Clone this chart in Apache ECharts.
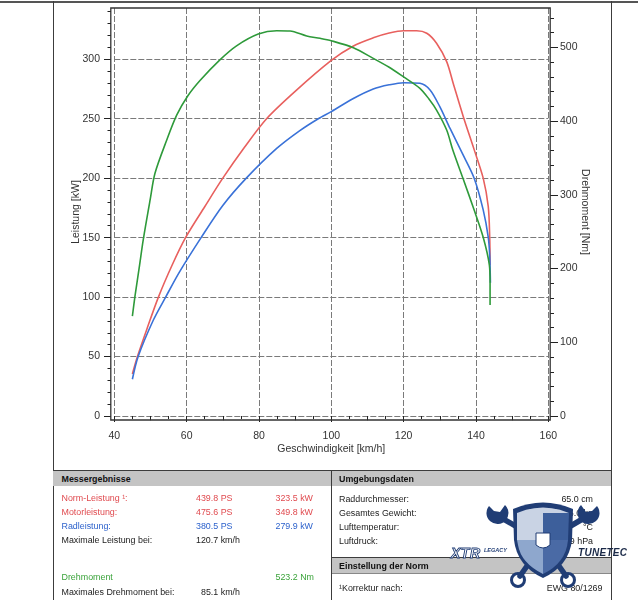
<!DOCTYPE html>
<html><head><meta charset="utf-8">
<script src="https://cdn.jsdelivr.net/npm/echarts@6.0.0/dist/echarts.min.js"></script>
<style>
html,body{margin:0;padding:0;background:#fff;}
#wrap{position:relative;width:638px;height:600px;overflow:hidden;font-family:'Liberation Sans',Arial,sans-serif;}
#chart{position:absolute;left:0;top:0;width:638px;height:600px;}
.ln{position:absolute;background:#3c3c3c;}
.bar{position:absolute;background:#c4c4c4;}
.t{position:absolute;font-size:8.9px;line-height:10px;height:10px;white-space:nowrap;color:#222;}
.h{font-weight:bold;color:#111;}
.red{color:#e04a4f;}
.blue{color:#2d62cc;}
.green{color:#3aa33a;}
#logo{position:absolute;left:0;top:0;}
</style></head>
<body><div id="wrap">
<div id="chart"></div>
<!-- page frame -->
<div class="ln" style="left:0;top:1px;width:638px;height:1.5px;background:#555"></div>
<div class="ln" style="left:52.5px;top:1px;width:1.5px;height:599px"></div>
<div class="ln" style="left:610.5px;top:1px;width:1.5px;height:599px"></div>
<!-- tables -->
<div class="bar" style="left:53px;top:470px;width:558px;height:16px"></div>
<div class="ln" style="left:53px;top:469.5px;width:558px;height:1.5px"></div>
<div class="ln" style="left:331px;top:470px;width:1.2px;height:130px"></div>
<div class="bar" style="left:332px;top:557px;width:279px;height:16px"></div>
<div class="ln" style="left:332px;top:556.5px;width:279px;height:1.2px"></div>
<div class="ln" style="left:332px;top:573px;width:279px;height:1px;background:#888"></div>

<div class="t h" style="left:61.5px;top:474px">Messergebnisse</div>
<div class="t red" style="left:61.5px;top:493px">Norm-Leistung ¹:</div>
<div class="t red" style="left:196px;top:493px">439.8 PS</div>
<div class="t red" style="left:275.5px;top:493px">323.5 kW</div>
<div class="t red" style="left:61.5px;top:507px">Motorleistung:</div>
<div class="t red" style="left:196px;top:507px">475.6 PS</div>
<div class="t red" style="left:275.5px;top:507px">349.8 kW</div>
<div class="t blue" style="left:61.5px;top:521px">Radleistung:</div>
<div class="t blue" style="left:196px;top:521px">380.5 PS</div>
<div class="t blue" style="left:275.5px;top:521px">279.9 kW</div>
<div class="t" style="left:61.5px;top:535px">Maximale Leistung bei:</div>
<div class="t" style="left:196px;top:535px">120.7 km/h</div>
<div class="t green" style="left:61.5px;top:572px">Drehmoment</div>
<div class="t green" style="left:275.5px;top:572px">523.2 Nm</div>
<div class="t" style="left:61.5px;top:587px">Maximales Drehmoment bei:</div>
<div class="t" style="left:201px;top:587px">85.1 km/h</div>

<div class="t h" style="left:339px;top:474px">Umgebungsdaten</div>
<div class="t" style="left:339px;top:494px">Raddurchmesser:</div>
<div class="t" style="right:45px;top:494px">65.0 cm</div>
<div class="t" style="left:339px;top:508px">Gesamtes Gewicht:</div>
<div class="t" style="right:45px;top:508px">5.0 kg</div>
<div class="t" style="left:339px;top:522px">Lufttemperatur:</div>
<div class="t" style="right:45px;top:522px">°C</div>
<div class="t" style="left:339px;top:536px">Luftdruck:</div>
<div class="t" style="right:45px;top:536px">9 hPa</div>
<div class="t h" style="left:339px;top:561px">Einstellung der Norm</div>
<div class="t" style="left:339px;top:583px">¹Korrektur nach:</div>
<div class="t" style="right:35.5px;top:583px">EWG 80/1269</div>

<svg id="logo" width="638" height="600" viewBox="0 0 638 600">
  <g fill="none" stroke="#203d75" stroke-width="5.5" stroke-linecap="round">
    <path d="M500,517 L524,531"/>
    <path d="M586,517 L562,531"/>
    <path d="M527,566 L520,576"/>
    <path d="M559,566 L566,576"/>
  </g>
  <path d="M489,506 a11,11 0 1 0 16,-1 l-5,7 l-6,-1 z" fill="#203d75"/>
  <path d="M597,506 a11,11 0 1 1 -16,-1 l5,7 l6,-1 z" fill="#203d75"/>
  <circle cx="518" cy="580" r="6.5" fill="none" stroke="#203d75" stroke-width="3"/>
  <circle cx="568" cy="580" r="6.5" fill="none" stroke="#203d75" stroke-width="3"/>
  <path d="M513,509 Q543,496 573,509 L572,540 Q569,566 543,578 Q517,566 514,540 Z" fill="#203d75"/>
  <path d="M517,513 Q543,502 569,513 L543,513 L543,540 L517,540 Z" fill="#c9d3e4"/>
  <path d="M543,513 L569,513 L568,540 L543,540 Z" fill="#3d5f9b"/>
  <path d="M517,540 L543,540 L543,574 Q521,563 518,545 Z" fill="#8ea7cd"/>
  <path d="M543,540 L568,540 Q566,563 543,574 Z" fill="#4a6aa5"/>
  <path d="M536,533 L550,533 L550,545 Q543,551 536,545 Z" fill="#ffffff" stroke="#203d75" stroke-width="1"/>
  <text x="451" y="557.5" font-family="Liberation Sans" font-size="14" font-style="italic" font-weight="bold" fill="#ffffff" stroke="#203d75" stroke-width="0.9" letter-spacing="0.5">XTR</text>
  <text x="484" y="552" font-family="Liberation Sans" font-size="5.5" font-style="italic" font-weight="bold" fill="#203d75">LEGACY</text>
  <text x="578" y="556" font-family="Liberation Sans" font-size="10" font-style="italic" font-weight="bold" fill="#1b2a48" letter-spacing="0.3">TUNETEC</text>
</svg>
</div>
<script>
// ---- data ----
const xTicks = [40, 60, 80, 100, 120, 140, 160];
const kwTicks = [0, 50, 100, 150, 200, 250, 300];
const nmTicks = [0, 100, 200, 300, 400, 500];

// Norm-Leistung (red), kW
const speedNorm = [45, 46.4, 49, 52.2, 56, 59.7, 65, 70, 76, 82.1, 90, 100, 106, 111.6, 116, 120, 123.6, 126.4, 129.1, 131.9, 133.7, 136.5, 139.5, 142, 143.4, 143.8, 143.9];
const normKW    = [35.3, 50, 73, 100, 127, 150, 176, 200, 226, 250, 273, 299, 311, 318, 322, 324, 324, 321.9, 313.5, 298, 279.8, 251.7, 224, 200, 176, 150.3, 127];

// Radleistung (blue), kW
const speedRad = [45, 46.6, 50.8, 54.2, 58, 64, 70, 76.5, 84.9, 91.3, 96.4, 100, 106.1, 111.6, 116, 120, 124.5, 127.3, 130, 132.8, 136.2, 139.5, 142, 143.4, 143.8, 144];
const radKW    = [30.9, 50, 80.7, 100, 121, 150, 177, 200, 225, 240, 250, 256, 267, 275, 278.5, 280.3, 279.8, 274.2, 260.1, 242, 221, 200, 173.3, 150.3, 135, 112];

// Drehmoment (green), Nm
const speedTorque = [45, 45.7, 47, 48, 49.9, 51.25, 54.5, 57.25, 60.3, 63.7, 69.2, 73.8, 79.8, 84.9, 88.6, 93.2, 96.9, 100, 106.1, 111.6, 116, 119.9, 124.5, 127, 129.1, 131.9, 133.6, 136.4, 139.5, 142, 143.7, 143.9, 143.9];
const torqueNm    = [135.6, 161.8, 205, 239, 293, 329.2, 374.3, 408, 434, 455, 483, 502, 518, 522.6, 522.2, 515.4, 512.3, 509, 499.5, 485.1, 473, 460.2, 444.5, 430, 415, 387.9, 360.8, 322.4, 279.4, 242.4, 204.8, 180, 150.5];

const zip = (xs, ys) => xs.map((x, i) => [x, ys[i]]);
const range = (a, b, s) => { const r = []; for (let v = a; v <= b + 1e-9; v += s) r.push(v); return r; };

const FONT = 'Liberation Sans';
const TXT = '#333';
const dashed = { show: true, lineStyle: { color: '#7a7a7a', type: [6, 2], width: 1 } };

const chart = echarts.init(document.getElementById('chart'), null, { renderer: 'canvas' });
chart.setOption({
  animation: false,
  backgroundColor: 'transparent',
  grid: { left: 114.3, right: 89.7, top: 8, bottom: 184, containLabel: false },
  xAxis: [
    {
      type: 'value', min: 40, max: 160, interval: 20, position: 'bottom', offset: 4,
      name: 'Geschwindigkeit [km/h]', nameLocation: 'middle', nameGap: 24, nameMoveOverlap: false,
      nameTextStyle: { fontSize: 10.5, color: TXT, fontFamily: FONT },
      axisLine: { show: false },
      axisTick: { show: true, length: 6, lineStyle: { color: '#222' } },
      minorTick: { show: true, splitNumber: 4, length: 3, lineStyle: { color: '#222' } },
      axisLabel: { fontSize: 10.5, color: TXT, fontFamily: FONT, margin: 11 },
      splitLine: dashed
    },
    {
      type: 'value', min: 40, max: 160, interval: 10, position: 'bottom', offset: 4,
      axisLine: { show: false },
      axisTick: { show: true, length: 4.3, lineStyle: { color: '#222' } },
      axisLabel: { show: false }, splitLine: { show: false }
    }
  ],
  yAxis: [
    {
      type: 'value', min: 0, max: 343.1, interval: 50, position: 'left', offset: 3.3,
      name: 'Leistung [kW]', nameLocation: 'middle', nameRotate: 90, nameGap: 29, nameMoveOverlap: false,
      nameTextStyle: { fontSize: 10.5, color: TXT, fontFamily: FONT },
      axisLine: { show: false },
      axisTick: { show: true, length: 7, customValues: kwTicks, lineStyle: { color: '#222' } },
      axisLabel: { fontSize: 10.5, color: TXT, fontFamily: FONT, margin: 11, customValues: kwTicks,
                   formatter: v => (v % 50 === 0 ? String(v) : '') },
      splitLine: dashed
    },
    {
      type: 'value', min: 0, max: 343.1, interval: 10, position: 'left', offset: 3.3,
      axisLine: { show: false },
      axisTick: { show: true, length: 3.5, customValues: range(0, 340, 10), lineStyle: { color: '#222' } },
      axisLabel: { show: false }, splitLine: { show: false }
    },
    {
      type: 'value', min: 0, max: 553.4, interval: 100, position: 'right', offset: 1.7,
      name: 'Drehmoment [Nm]', nameLocation: 'middle', nameRotate: -90, nameGap: 29, nameMoveOverlap: false,
      nameTextStyle: { fontSize: 10.5, color: TXT, fontFamily: FONT },
      axisLine: { show: false },
      axisTick: { show: true, length: 8, customValues: nmTicks, lineStyle: { color: '#222' } },
      axisLabel: { fontSize: 10.5, color: TXT, fontFamily: FONT, margin: 10, customValues: nmTicks,
                   formatter: v => (v % 100 === 0 ? String(v) : '') },
      splitLine: { show: false }
    },
    {
      type: 'value', min: 0, max: 553.4, interval: 20, position: 'right', offset: 1.7,
      axisLine: { show: false },
      axisTick: { show: true, length: 4, customValues: range(0, 540, 20), lineStyle: { color: '#222' } },
      axisLabel: { show: false }, splitLine: { show: false }
    }
  ],
  graphic: [
    { type: 'rect', z: 100, silent: true,
      shape: { x: 110.8, y: 8, width: 439.4, height: 412 },
      style: { fill: 'none', stroke: '#333', lineWidth: 1.3 } }
  ],
  series: [
    { name: 'Norm-Leistung', type: 'line', xAxisIndex: 0, yAxisIndex: 0, data: zip(speedNorm, normKW),
      showSymbol: false, smooth: 0.3, lineStyle: { color: '#e8605e', width: 1.6 }, z: 3 },
    { name: 'Radleistung', type: 'line', xAxisIndex: 0, yAxisIndex: 0, data: zip(speedRad, radKW),
      showSymbol: false, smooth: 0.3, lineStyle: { color: '#3a72d8', width: 1.6 }, z: 4 },
    { name: 'Drehmoment', type: 'line', xAxisIndex: 0, yAxisIndex: 2, data: zip(speedTorque, torqueNm),
      showSymbol: false, smooth: 0.3, lineStyle: { color: '#2e9a3a', width: 1.6 }, z: 5 }
  ]
});
</script>
</body></html>
